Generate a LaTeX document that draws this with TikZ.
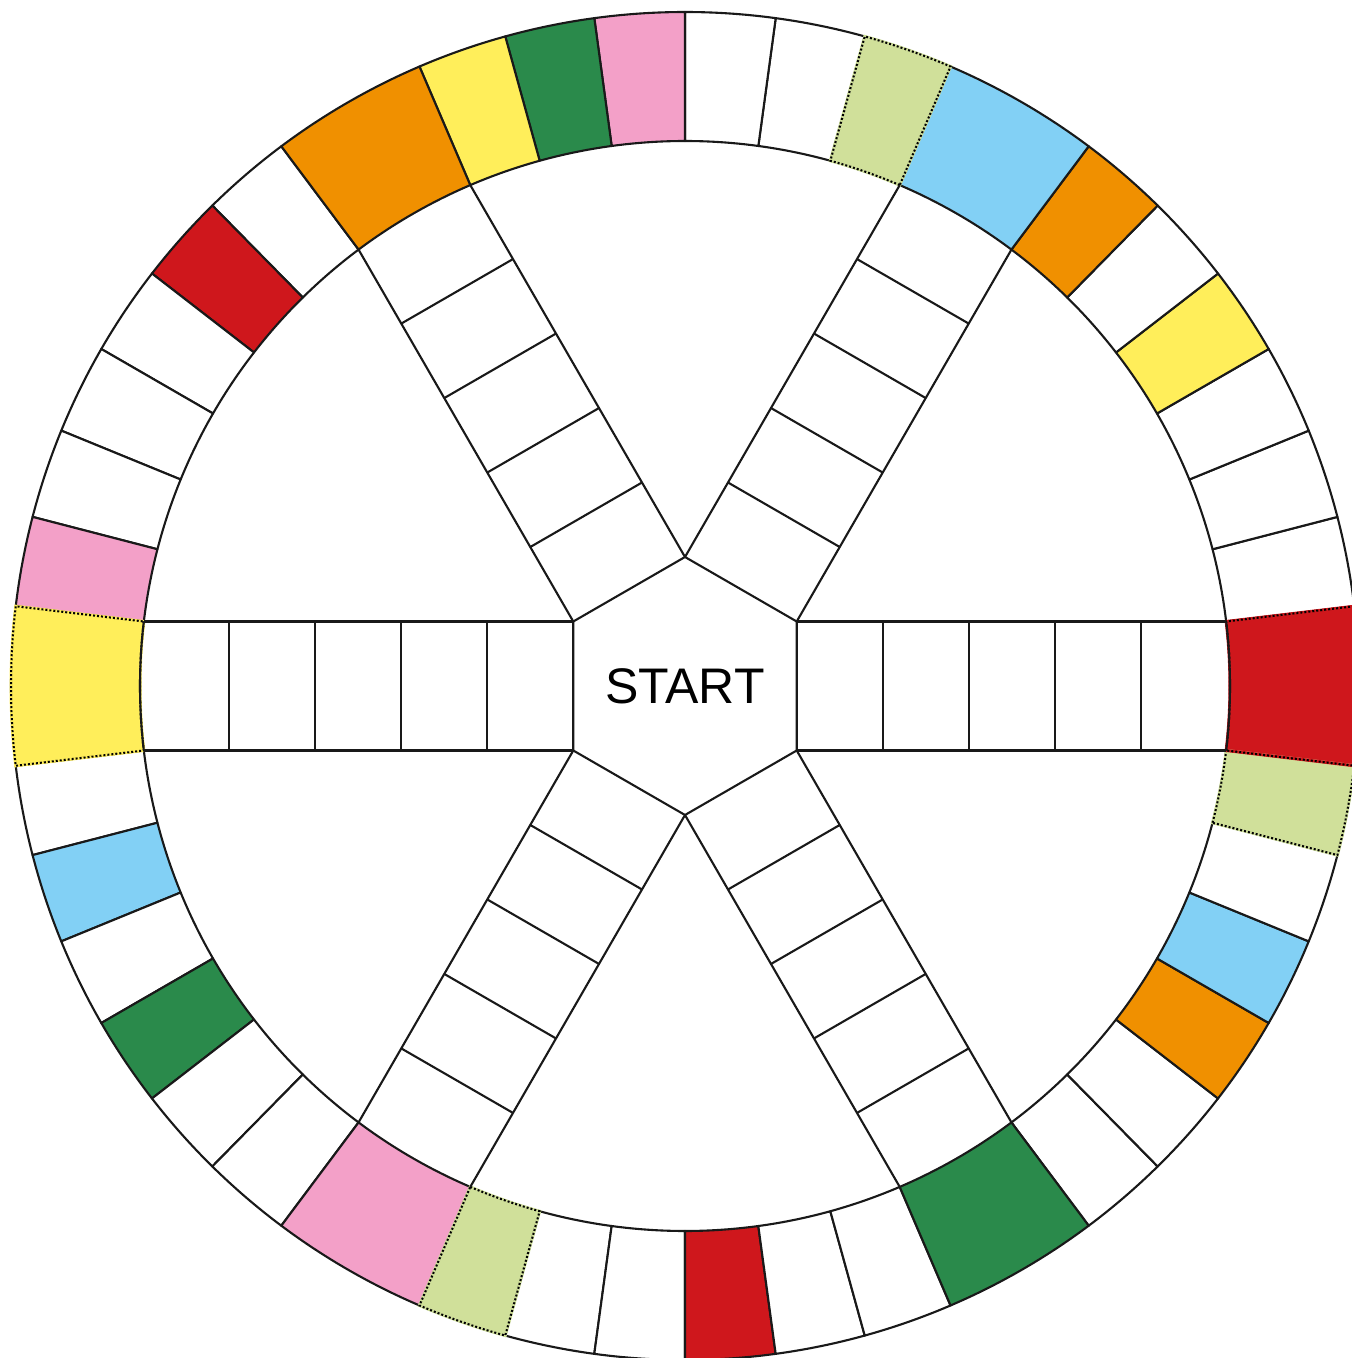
\documentclass[tikz,border=0pt]{standalone}
\usepackage{fontspec}
\setmainfont{Liberation Sans}
\definecolor{cyel}{HTML}{FFEE5A}
\definecolor{cred}{HTML}{CF171C}
\definecolor{cora}{HTML}{F09000}
\definecolor{cgreen}{HTML}{2A8A4B}
\definecolor{cpink}{HTML}{F3A0C8}
\definecolor{cblue}{HTML}{82D0F5}
\definecolor{clg}{HTML}{D0E09A}
\newcommand\ringseg[3]{\path[#3] (#1:\Ri) arc[start angle=#1,end angle=#2,radius=\Ri] -- (#2:\Ro) arc[start angle=#2,end angle=#1,radius=\Ro] -- cycle;}
\tikzset{
  bline/.style={draw=black!90,line width=1.05pt,line join=round},
  dotline/.style={draw=black,densely dotted,line width=1pt}
}
\begin{document}
\begin{tikzpicture}
\def\Ri{272.5pt}\def\Ro{337pt}
\useasboundingbox (-342.5pt,-336pt) rectangle (333.5pt,343pt);
\clip (-342.5pt,-336pt) rectangle (333.5pt,343pt);
\fill[white] (-342.5pt,-336pt) rectangle (333.5pt,343pt);
% ring squares
\foreach \i/\c in {0/white,1/white,2/white,3/cyel,4/white,5/cora,
  6/clg,7/white,8/white,9/cpink,10/cgreen,11/cyel,
  12/white,13/cred,14/white,15/white,16/white,17/cpink,
  18/white,19/cblue,20/white,21/cgreen,22/white,23/white,
  24/clg,25/white,26/white,27/cred,28/white,29/white,
  30/white,31/white,32/cora,33/cblue,34/white,35/clg}{
  \pgfmathsetmacro\aa{60*int(\i/6)+6.797+7.734*mod(\i,6)}
  \pgfmathsetmacro\ab{\aa+7.734}
  \ringseg{\aa}{\ab}{fill=\c,bline}
}
% headquarters
\foreach \k/\c in {0/cred,1/cblue,2/cora,3/cyel,4/cpink,5/cgreen}{
  \pgfmathsetmacro\aa{60*\k-6.797}
  \pgfmathsetmacro\ab{60*\k+6.797}
  \ringseg{\aa}{\ab}{fill=\c,bline}
}
% dotted borders
\foreach \aa/\ab/\c in {66.797/74.531/clg,246.797/254.531/clg,345.469/353.203/clg,-6.797/6.797/cred,173.203/186.797/cyel}{
  \ringseg{\aa}{\ab}{draw=\c,line width=1.5pt}
  \ringseg{\aa}{\ab}{dotline}
}
\draw[bline] (-6.797:\Ri) arc[start angle=-6.797,end angle=6.797,radius=\Ri];
\draw[bline] (173.203:\Ri) arc[start angle=173.203,end angle=186.797,radius=\Ri];
% spokes
\foreach \t in {0,60,...,300}{
  \begin{scope}[rotate=\t]
    \draw[bline] (55.86pt,-32.25pt) -- (270.58pt,-32.25pt);
    \draw[bline] (55.86pt,32.25pt) -- (270.58pt,32.25pt);
    \foreach \k in {1,...,4}
      \draw[bline] (55.86pt+43pt*\k,-32.25pt) -- ++(0pt,64.5pt);
  \end{scope}
}
% hexagon
\draw[bline] (90:64.5pt) -- (150:64.5pt) -- (210:64.5pt) -- (270:64.5pt) -- (330:64.5pt) -- (30:64.5pt) -- cycle;
\node (start) at (0,0) {\fontsize{25}{30}\selectfont START};
\end{tikzpicture}
\end{document}
